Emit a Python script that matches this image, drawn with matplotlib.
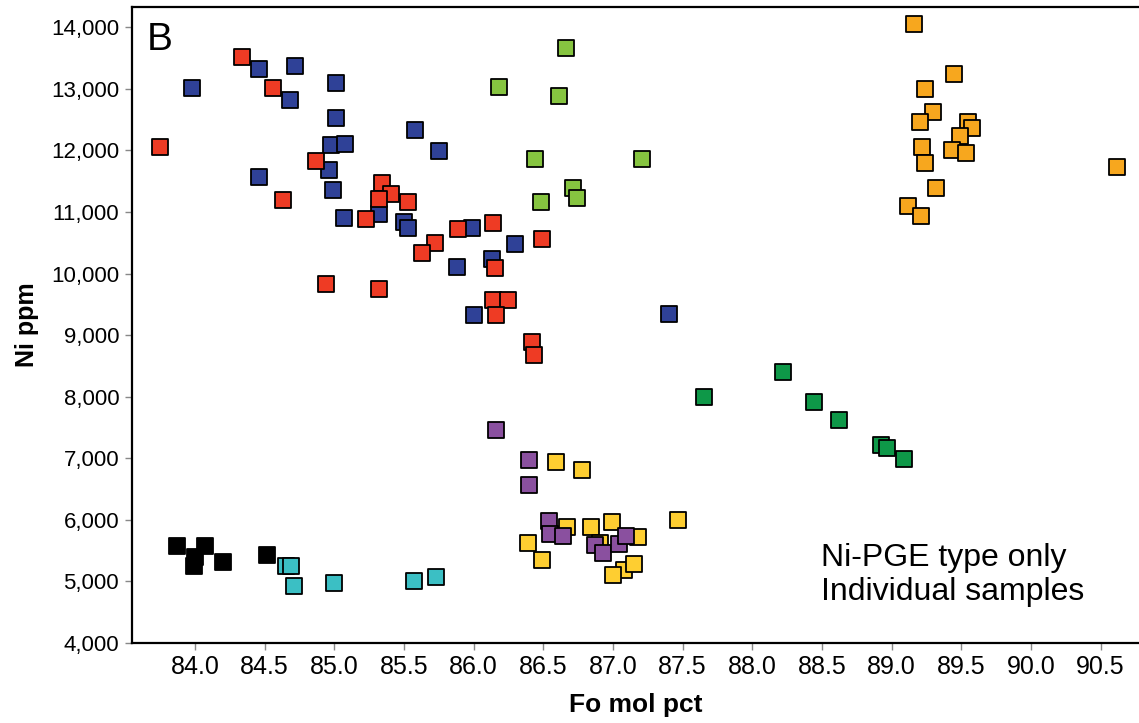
import matplotlib
matplotlib.use("Agg")
import matplotlib.pyplot as plt

plt.rcParams['font.family'] = ['Liberation Sans', 'DejaVu Sans']

# Fo mol pct / Ni ppm per group
black_x = [83.87, 84.00, 83.99, 84.07, 84.20, 84.52]
black_y = [5580, 5400, 5250, 5575, 5315, 5424]

cyan_x = [84.65, 84.69, 84.71, 85.00, 85.57, 85.73]
cyan_y = [5255, 5255, 4931, 4970, 5012, 5067]

blue_x = [83.98, 84.46, 84.72, 84.68, 85.01, 85.01, 84.98, 85.08, 84.96, 84.99,
          84.46, 85.58, 85.75, 85.07, 85.32, 85.50, 85.53, 85.99, 86.30, 86.13,
          85.88, 86.00, 87.40]
blue_y = [13013, 13327, 13375, 12813, 13090, 12526, 12091, 12104, 11678, 11365,
          11563, 12331, 11987, 10907, 10970, 10842, 10745, 10748, 10485, 10239,
          10110, 9327, 9350]

red_x = [83.75, 84.34, 84.56, 84.63, 84.87, 85.34, 85.41, 85.32, 85.53, 85.23,
         85.72, 85.63, 85.89, 86.14, 86.49, 86.15, 84.94, 85.32, 86.14, 86.25,
         86.16, 86.42, 86.43]
red_y = [12055, 13522, 13008, 11199, 11828, 11475, 11292, 11206, 11167, 10894,
         10501, 10337, 10718, 10824, 10561, 10095, 9833, 9746, 9570, 9570,
         9319, 8896, 8680]

lgreen_x = [86.66, 86.18, 86.61, 86.44, 87.21, 86.71, 86.74, 86.48]
lgreen_y = [13668, 13038, 12878, 11860, 11860, 11389, 11227, 11157]

dgreen_x = [87.65, 88.22, 88.44, 88.62, 88.92, 88.97, 89.09]
dgreen_y = [8000, 8396, 7914, 7617, 7211, 7167, 6988]

orange_x = [89.16, 89.45, 89.24, 89.30, 89.20, 89.55, 89.58, 89.49, 89.22, 89.43,
            89.53, 89.24, 89.32, 89.12, 89.21, 90.62]
orange_y = [14053, 13245, 12992, 12623, 12461, 12461, 12369, 12239, 12055, 12001,
            11953, 11790, 11394, 11097, 10934, 11735]

yellow_x = [86.59, 86.78, 87.47, 86.39, 86.49, 86.67, 86.84, 86.99, 87.18, 86.91,
            87.08, 87.15, 87.00]
yellow_y = [6939, 6814, 5998, 5627, 5345, 5876, 5876, 5960, 5717, 5624,
            5181, 5275, 5108]

purple_x = [86.16, 86.40, 86.40, 86.54, 86.55, 86.64, 86.87, 86.93, 87.04, 87.09]
purple_y = [7464, 6967, 6571, 5989, 5767, 5743, 5596, 5457, 5605, 5733]

groups = [
    (black_x, black_y, '#000000'),
    (cyan_x, cyan_y, '#3BBFC4'),
    (blue_x, blue_y, '#2F4197'),
    (red_x, red_y, '#EE3B24'),
    (lgreen_x, lgreen_y, '#86C440'),
    (dgreen_x, dgreen_y, '#0E9848'),
    (orange_x, orange_y, '#F7A71E'),
    (yellow_x, yellow_y, '#FECE31'),
    (purple_x, purple_y, '#8A509F'),
]

fig = plt.figure(figsize=(11.39, 7.23), dpi=100)
ax = fig.add_axes([0.1156, 0.1107, 0.8844, 0.88])

for xs, ys, c in groups:
    ax.scatter(xs, ys, marker='s', s=132, c=c, edgecolors='black', linewidths=1.3)

ax.set_xlim(83.546, 90.775)
ax.set_ylim(4000, 14334)
ax.set_xticks([84.0 + 0.5 * i for i in range(14)])
ax.set_xticklabels(['%.1f' % (84.0 + 0.5 * i) for i in range(14)],
                   family=['Liberation Sans Narrow', 'Liberation Sans'], fontsize=18)
ax.set_yticks(range(4000, 14001, 1000))
ax.set_yticklabels(['{:,}'.format(v) for v in range(4000, 14001, 1000)], fontsize=16)
ax.tick_params(direction='out', length=5, width=1, color='#888888', pad=4)

for s in ['left', 'bottom', 'top']:
    ax.spines[s].set_linewidth(1.6)
ax.spines['right'].set_visible(False)

ax.set_xlabel('Fo mol pct', fontsize=19, fontweight='bold', labelpad=10)
ax.set_ylabel('Ni ppm', fontsize=18, fontweight='bold', labelpad=9)

ax.text(88.49, 5104, 'Ni-PGE type only\nIndividual samples', fontsize=23,
        ha='left', va='center', linespacing=1.15)
fig.text(0.129, 0.945, 'B', fontsize=28, ha='left', va='center')

fig.savefig('out.png', dpi=100)
